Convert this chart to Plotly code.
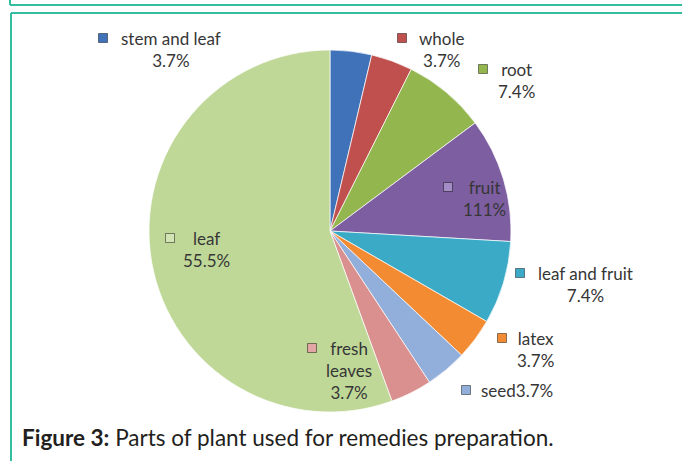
import plotly.graph_objects as go

W, H = 682, 461

# ---- data ----
parts = ["stem and leaf", "whole", "root", "fruit", "leaf and fruit",
         "latex", "seed", "fresh leaves", "leaf"]
percent = [3.7, 3.7, 7.4, 11.1, 7.4, 3.7, 3.7, 3.7, 55.5]
label_texts = ["stem and leaf<br>3.7%", "whole<br>3.7%", "root<br>7.4%",
               "fruit<br>111%", "leaf and fruit<br>7.4%", "latex<br>3.7%",
               "seed3.7%", "fresh<br>leaves<br>3.7%", "leaf<br>55.5%"]
colors = ["#3f72b8", "#c0504d", "#93b64f", "#7d5ea1", "#3aaac6",
          "#f38b33", "#92aedb", "#d9908e", "#bfd898"]
marker_colors = ["#3f72b8", "#c0504d", "#93b64f", "#a48cc4", "#3aaac6",
                 "#f38b33", "#92aedb", "#e3a6a4", "#d2e4b4"]

caption = "<b>Figure 3:</b> Parts of plant used for remedies preparation."

# ---- layout helpers (pixel -> paper) ----
def px(x):
    return x / W

def py(y):
    return 1 - y / H

cx, cy, r = 330, 231, 181

fig = go.Figure(go.Pie(
    labels=parts, values=percent, sort=False, direction="clockwise",
    rotation=0, textinfo="none", hoverinfo="label+percent",
    marker=dict(colors=colors, line=dict(color="rgba(255,255,255,0.7)", width=1)),
    domain=dict(x=[px(cx - r), px(cx + r)], y=[py(cy + r), py(cy - r)]),
    showlegend=False,
))

# label block anchors: (text centre x, first-line centre y, marker x)
label_pos = [(171, 38, 103), (441, 38, 402), (516, 69, 483), (484, 187, 448),
             (585, 273, 520), (535, 338, 502), (517, 390, 466),
             (349, 348, 312), (206, 238, 170)]

annotations = []
shapes = []
for txt, mcol, (tx, ty, mx) in zip(label_texts, marker_colors, label_pos):
    annotations.append(dict(
        x=px(tx), y=py(ty - 12), xref="paper", yref="paper",
        xanchor="center", yanchor="top", text=txt, showarrow=False,
        align="center", font=dict(family="Lato", size=17, color="#363636"),
    ))
    shapes.append(dict(type="rect", xref="paper", yref="paper",
                       x0=px(mx - 4.5), x1=px(mx + 4.5),
                       y0=py(ty + 4.5), y1=py(ty - 4.5),
                       fillcolor=mcol, line=dict(color="rgba(0,0,0,0.45)", width=1)))

annotations.append(dict(
    x=px(20), y=py(437), xref="paper", yref="paper", xanchor="left",
    yanchor="middle", text=caption, showarrow=False,
    font=dict(family="Lato", size=22.5, color="#231f20"),
))

frame = "#33bf9f"
shapes += [
    dict(type="line", xref="paper", yref="paper", x0=px(10), x1=px(W + 5),
         y0=py(5), y1=py(5), line=dict(color=frame, width=2)),
    dict(type="line", xref="paper", yref="paper", x0=px(10), x1=px(10),
         y0=py(-5), y1=py(5), line=dict(color=frame, width=2)),
    dict(type="line", xref="paper", yref="paper", x0=px(11), x1=px(W + 5),
         y0=py(13), y1=py(13), line=dict(color=frame, width=2)),
    dict(type="line", xref="paper", yref="paper", x0=px(11), x1=px(11),
         y0=py(13), y1=py(H + 5), line=dict(color=frame, width=2)),
]

fig.update_layout(
    width=W, height=H, margin=dict(l=0, r=0, t=0, b=0),
    paper_bgcolor="white", plot_bgcolor="white",
    annotations=annotations, shapes=shapes,
)

fig.write_html("out.html",
               config={"displayModeBar": False},
               post_script="document.body.style.margin='0';"
                           "document.body.style.overflow='hidden';")
